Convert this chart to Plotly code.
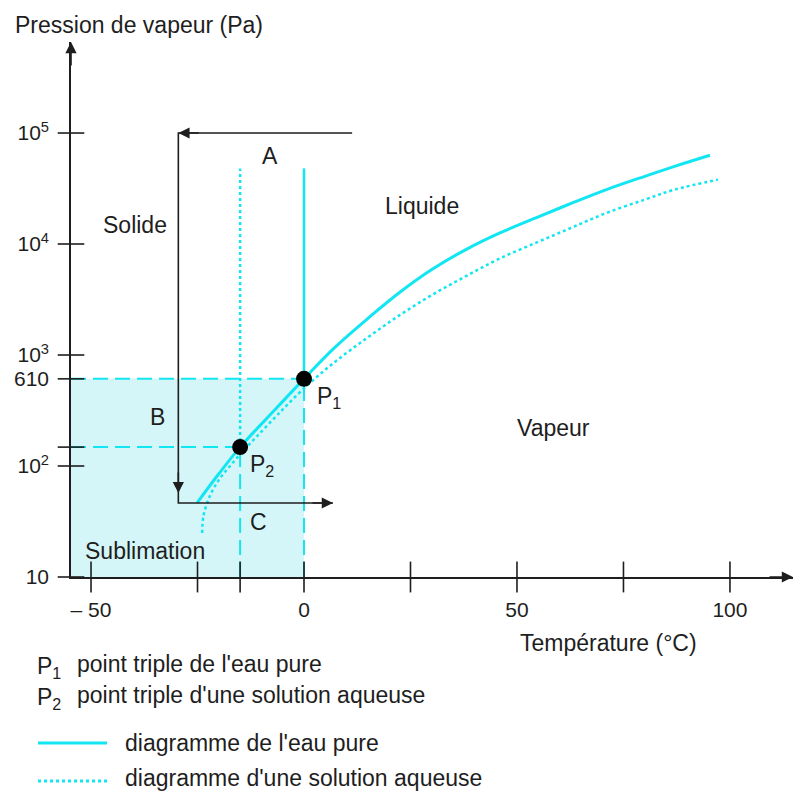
import numpy as np
import plotly.graph_objects as go

# ---------------- data ----------------
T_PURE = [-25.1, -20.0, -15.0, -7.0, 0.0, 7.0, 15.0, 22.5, 30.0, 38.0, 46.0,
          55.0, 63.0, 71.0, 80.0, 87.0, 95.3]
P_PURE = [46.5, 85.1, 148, 316, 610, 1148, 2138, 3673, 5888, 8913, 12590,
          17580, 23440, 30900, 40740, 50120, 63100]

T_SOL = [-23.9, -23.6, -22.1, -19.7, -16.7, -14.0, -11.0, -6.0, 0.0, 7.0, 15.0,
         22.5, 30.0, 38.0, 46.0, 55.0, 63.0, 71.0, 80.0, 87.0, 97.2]
P_SOL = [24.9, 35.5, 53.7, 77.6, 107, 141, 186, 295, 501, 851, 1445,
         2291, 3467, 5129, 7413, 10470, 14130, 19050, 25120, 30900, 38020]

P1 = (0.0, 610.0)      # triple point, pure water
P2 = (-15.0, 148.0)    # triple point, aqueous solution
MELT_TOP = 48000.0     # top of the fusion lines

# path A -> B -> C
PATH_T = [11.3, -29.5, -29.5, 6.8]
PATH_P = [1e5, 1e5, 46.4, 46.4]
B_TIP_P = 57.0

X_RANGE = [-54.7, 114.8]
Y_RANGE_LOG = [1.0, 5.82]
Y_MIN = 10.0

X_TICKS = [-50, -25, -15, 0, 25, 50, 75, 100]
X_LABEL_VALS = [-50, 0, 50, 100]
X_LABEL_TEXT = ["– 50", "0", "50", "100"]
Y_TICKS = [10, 100, 148, 610, 1000, 1e4, 1e5]
Y_LABEL_VALS = [10, 100, 610, 1000, 1e4, 1e5]
Y_LABEL_TEXT = ["10", "10<sup>2</sup>", "610", "10<sup>3</sup>", "10<sup>4</sup>", "10<sup>5</sup>"]

REGION_LABELS = [
    ("A", -8.0, 10 ** 4.79),
    ("B", -34.5, 10 ** 2.44),
    ("C", -10.6, 10 ** 1.495),
    ("Solide", -39.7, 10 ** 4.17),
    ("Liquide", 27.7, 10 ** 4.34),
    ("Vapeur", 58.5, 10 ** 2.34),
    ("Sublimation", -37.3, 10 ** 1.234),
]

# ---------------- style ----------------
CYAN = "#12e6f2"
SHADE = "#d5f6f8"
INK = "#1e1e1e"
FONT = "Liberation Sans, Arial, sans-serif"
FS = 23
TFS = 21
DASH = "15px,7px"

W, H = 795, 791
L, R, T, B = 71, 793, 42, 577


def xpap(px):
    return (px - L) / (R - L)


def ypap(py):
    return (B - py) / (B - T)


fig = go.Figure()

# shaded sublimation zone
fig.add_trace(go.Scatter(
    x=[X_RANGE[0], P1[0], P1[0], X_RANGE[0], X_RANGE[0]],
    y=[Y_MIN, Y_MIN, P1[1], P1[1], Y_MIN],
    fill="toself", fillcolor=SHADE, line=dict(width=0), mode="lines",
    hoverinfo="skip", showlegend=False))

# dashed guide lines
for (tx, py) in (P1, P2):
    fig.add_trace(go.Scatter(x=[X_RANGE[0], tx], y=[py, py], mode="lines",
                             line=dict(color=CYAN, width=2, dash=DASH),
                             hoverinfo="skip", showlegend=False))
    fig.add_trace(go.Scatter(x=[tx, tx], y=[Y_MIN, py], mode="lines",
                             line=dict(color=CYAN, width=2, dash=DASH),
                             hoverinfo="skip", showlegend=False))

# fusion lines
fig.add_trace(go.Scatter(x=[P1[0], P1[0]], y=[P1[1], MELT_TOP], mode="lines",
                         line=dict(color=CYAN, width=2.5), showlegend=False))
fig.add_trace(go.Scatter(x=[P2[0], P2[0]], y=[P2[1], MELT_TOP], mode="lines",
                         line=dict(color=CYAN, width=2.5, dash="dot"), showlegend=False))

# vapour pressure curves
fig.add_trace(go.Scatter(x=T_PURE, y=P_PURE, mode="lines", line_shape="spline",
                         line=dict(color=CYAN, width=3), showlegend=False))
fig.add_trace(go.Scatter(x=T_SOL, y=P_SOL, mode="lines", line_shape="spline",
                         line=dict(color=CYAN, width=2.5, dash="dot"), showlegend=False))

# path A-B-C
fig.add_trace(go.Scatter(x=PATH_T, y=PATH_P, mode="lines",
                         line=dict(color=INK, width=1.6), hoverinfo="skip", showlegend=False))

# triple points
fig.add_trace(go.Scatter(x=[P1[0], P2[0]], y=[P1[1], P2[1]], mode="markers",
                         marker=dict(color="black", size=16), showlegend=False))

# crossing tick marks
fig.add_trace(go.Scatter(x=X_TICKS, y=[Y_MIN] * len(X_TICKS), mode="markers",
                         marker=dict(symbol="line-ns-open", size=22, color=INK,
                                     line=dict(color=INK, width=1.6)),
                         cliponaxis=False, hoverinfo="skip", showlegend=False))
fig.add_trace(go.Scatter(x=[X_RANGE[0]] * len(Y_TICKS), y=Y_TICKS, mode="markers",
                         marker=dict(symbol="line-ew-open", size=19, color=INK,
                                     line=dict(color=INK, width=1.6)),
                         cliponaxis=False, hoverinfo="skip", showlegend=False))

annotations = []
# arrowheads of path
for (tx, tp, axp, ayp) in [(PATH_T[1], PATH_P[1], 22, 0),
                           (PATH_T[2], B_TIP_P, 0, -22),
                           (PATH_T[3], PATH_P[3], -22, 0)]:
    annotations.append(dict(x=tx, y=np.log10(tp), ax=axp, ay=ayp, xref="x", yref="y",
                            showarrow=True, arrowhead=2, arrowsize=1.4, arrowwidth=1.6,
                            arrowcolor=INK, text=""))
# axis arrowheads
annotations.append(dict(x=1, y=0, xref="paper", yref="paper", ax=-25, ay=0,
                        showarrow=True, arrowhead=2, arrowsize=1.4, arrowwidth=1.6,
                        arrowcolor=INK, text=""))
annotations.append(dict(x=0, y=1, xref="paper", yref="paper", ax=0, ay=25,
                        showarrow=True, arrowhead=2, arrowsize=1.4, arrowwidth=1.6,
                        arrowcolor=INK, text=""))

for (txt, tx, tp) in REGION_LABELS:
    annotations.append(dict(x=tx, y=np.log10(tp), xref="x", yref="y", text=txt,
                            showarrow=False, font=dict(size=FS, color=INK, family=FONT)))

annotations.append(dict(x=xpap(315), y=np.log10(P1[1]) - 0.17, xref="paper", yref="y",
                        text="P<sub>1</sub>", xanchor="left", showarrow=False,
                        font=dict(size=FS, color=INK, family=FONT)))
annotations.append(dict(x=xpap(248), y=np.log10(P2[1]) - 0.17, xref="paper", yref="y",
                        text="P<sub>2</sub>", xanchor="left", showarrow=False,
                        font=dict(size=FS, color=INK, family=FONT)))

# axis titles
annotations.append(dict(x=xpap(13), y=ypap(25), xref="paper", yref="paper",
                        text="Pression de vapeur (Pa)", xanchor="left", yanchor="middle",
                        showarrow=False, font=dict(size=FS, color=INK, family=FONT)))
annotations.append(dict(x=xpap(518), y=ypap(643), xref="paper", yref="paper",
                        text="Température (°C)", xanchor="left", yanchor="middle",
                        showarrow=False, font=dict(size=FS, color=INK, family=FONT)))

# key below
KEY = [("P<sub>1</sub>", 35, 667, "point triple de l'eau pure", 75),
       ("P<sub>2</sub>", 35, 698, "point triple d'une solution aqueuse", 75)]
for sym, sx, sy, txt, tx in KEY:
    annotations.append(dict(x=xpap(sx), y=ypap(sy), xref="paper", yref="paper", text=sym,
                            xanchor="left", yanchor="middle", showarrow=False,
                            font=dict(size=FS, color=INK, family=FONT)))
    annotations.append(dict(x=xpap(tx), y=ypap(sy - 3), xref="paper", yref="paper", text=txt,
                            xanchor="left", yanchor="middle", showarrow=False,
                            font=dict(size=FS, color=INK, family=FONT)))
annotations.append(dict(x=xpap(123), y=ypap(743), xref="paper", yref="paper",
                        text="diagramme de l'eau pure", xanchor="left", yanchor="middle",
                        showarrow=False, font=dict(size=FS, color=INK, family=FONT)))
annotations.append(dict(x=xpap(123), y=ypap(778), xref="paper", yref="paper",
                        text="diagramme d'une solution aqueuse", xanchor="left", yanchor="middle",
                        showarrow=False, font=dict(size=FS, color=INK, family=FONT)))

shapes = [
    dict(type="line", xref="paper", yref="paper", x0=xpap(38), x1=xpap(107),
         y0=ypap(743), y1=ypap(743), line=dict(color=CYAN, width=3)),
    dict(type="line", xref="paper", yref="paper", x0=xpap(38), x1=xpap(107),
         y0=ypap(781), y1=ypap(781), line=dict(color=CYAN, width=3, dash="dot")),
]

fig.update_layout(
    width=W, height=H,
    margin=dict(l=L, r=W - R, t=T, b=H - B, pad=0),
    plot_bgcolor="white", paper_bgcolor="white",
    showlegend=False,
    annotations=annotations, shapes=shapes,
    font=dict(family=FONT, color=INK),
    xaxis=dict(range=X_RANGE, showgrid=False, zeroline=False, showline=True,
               linecolor=INK, linewidth=1.6, ticks="", tickvals=X_LABEL_VALS,
               ticktext=X_LABEL_TEXT, tickfont=dict(size=TFS, color=INK, family=FONT),
               ticklabelstandoff=13),
    yaxis=dict(type="log", range=Y_RANGE_LOG, showgrid=False, zeroline=False,
               showline=True, linecolor=INK, linewidth=1.6, ticks="",
               tickvals=Y_LABEL_VALS, ticktext=Y_LABEL_TEXT,
               tickfont=dict(size=TFS, color=INK, family=FONT), ticklabelstandoff=16),
)

fig.write_html("out.html")
